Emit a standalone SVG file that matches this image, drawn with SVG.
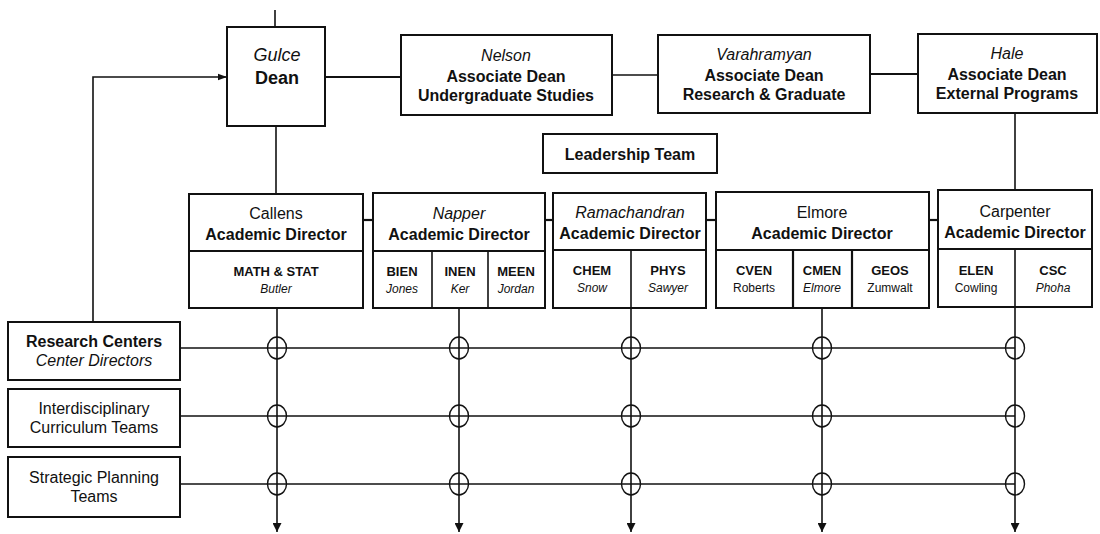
<svg xmlns="http://www.w3.org/2000/svg" width="1100" height="534" viewBox="0 0 1100 534">
<style>
.box{fill:#fff;stroke:#111;stroke-width:2}
.ln{fill:none;stroke:#111;stroke-width:1.6}
.tk{fill:none;stroke:#111;stroke-width:2.2}
.hop{fill:none;stroke:#111;stroke-width:1.4}
text{font-family:"Liberation Sans",Arial,sans-serif;fill:#111;text-anchor:middle}
.b{font-weight:bold;font-size:16px}
.i{font-style:italic;font-size:16px}
.r{font-size:16px}
.db{font-weight:bold;font-size:13px}
.di{font-style:italic;font-size:12px}
</style>
<defs>
<marker id="ah" viewBox="0 0 10 10" refX="10" refY="5" markerWidth="9" markerHeight="9" markerUnits="userSpaceOnUse" orient="auto"><path d="M0,1.5 L10,5 L0,8.5 Z" fill="#111"/></marker>
<marker id="ad" viewBox="0 0 10 10" refX="10" refY="5" markerWidth="13" markerHeight="9" markerUnits="userSpaceOnUse" orient="auto"><path d="M0,0 L10,5 L0,10 Z" fill="#111"/></marker>
</defs>
<g id="connectors">
<line class="ln" x1="275" y1="10" x2="275" y2="27"/>
<line class="tk" x1="325" y1="77" x2="401" y2="77"/>
<line class="ln" x1="612" y1="75" x2="658" y2="75"/>
<line class="tk" x1="870" y1="74" x2="918" y2="74"/>
<line class="ln" x1="276" y1="126" x2="276" y2="193"/>
<line class="ln" x1="1015" y1="113" x2="1015" y2="190"/>
<polyline class="ln" points="93,322 93,77 227,77" marker-end="url(#ah)"/>
<line class="tk" x1="363" y1="220" x2="373" y2="220"/>
<line class="tk" x1="545" y1="220" x2="553" y2="220"/>
<line class="tk" x1="706" y1="220" x2="716" y2="220"/>
<line class="tk" x1="929" y1="220" x2="938" y2="220"/>
<line class="ln" x1="180" y1="348" x2="1015" y2="348"/>
<line class="ln" x1="180" y1="416" x2="1015" y2="416"/>
<line class="ln" x1="180" y1="484" x2="1015" y2="484"/>
<line class="ln" x1="277" y1="308" x2="277" y2="532" marker-end="url(#ad)"/>
<line class="ln" x1="459" y1="308" x2="459" y2="532" marker-end="url(#ad)"/>
<line class="ln" x1="631" y1="308" x2="631" y2="532" marker-end="url(#ad)"/>
<line class="ln" x1="822" y1="308" x2="822" y2="532" marker-end="url(#ad)"/>
<line class="ln" x1="1015" y1="308" x2="1015" y2="532" marker-end="url(#ad)"/>
<g id="hops">
<ellipse class="hop" cx="277" cy="348" rx="9.5" ry="11"/><ellipse class="hop" cx="459" cy="348" rx="9.5" ry="11"/><ellipse class="hop" cx="631" cy="348" rx="9.5" ry="11"/><ellipse class="hop" cx="822" cy="348" rx="9.5" ry="11"/><ellipse class="hop" cx="1015" cy="348" rx="9.5" ry="11"/>
<ellipse class="hop" cx="277" cy="416" rx="9.5" ry="11"/><ellipse class="hop" cx="459" cy="416" rx="9.5" ry="11"/><ellipse class="hop" cx="631" cy="416" rx="9.5" ry="11"/><ellipse class="hop" cx="822" cy="416" rx="9.5" ry="11"/><ellipse class="hop" cx="1015" cy="416" rx="9.5" ry="11"/>
<ellipse class="hop" cx="277" cy="484" rx="9.5" ry="11"/><ellipse class="hop" cx="459" cy="484" rx="9.5" ry="11"/><ellipse class="hop" cx="631" cy="484" rx="9.5" ry="11"/><ellipse class="hop" cx="822" cy="484" rx="9.5" ry="11"/><ellipse class="hop" cx="1015" cy="484" rx="9.5" ry="11"/>
</g>
</g>
<g id="dean">
<rect class="box" x="227" y="27" width="98" height="99"/>
<text x="277" y="61" class="i" style="font-size:18px">Gulce</text>
<text x="277" y="84" class="b" style="font-size:18px">Dean</text>
</g>
<g id="nelson">
<rect class="box" x="401" y="35" width="211" height="80"/>
<text x="506" y="61" class="i">Nelson</text>
<text x="506" y="82" class="b">Associate Dean</text>
<text x="506" y="101" class="b">Undergraduate Studies</text>
</g>
<g id="varahramyan">
<rect class="box" x="658" y="35" width="212" height="78"/>
<text x="764" y="60" class="i">Varahramyan</text>
<text x="764" y="81" class="b">Associate Dean</text>
<text x="764" y="100" class="b">Research &amp; Graduate</text>
</g>
<g id="hale">
<rect class="box" x="918" y="34" width="179" height="79"/>
<text x="1007" y="59" class="i">Hale</text>
<text x="1007" y="80" class="b">Associate Dean</text>
<text x="1007" y="99" class="b">External Programs</text>
</g>
<g id="leadership">
<rect class="box" x="543" y="134" width="174" height="39"/>
<text x="630" y="160" class="b">Leadership Team</text>
</g>
<g id="callens">
<rect class="box" x="189" y="194" width="174" height="114"/>
<line class="tk" x1="189" y1="251" x2="363" y2="251"/>
<text x="276" y="219" class="i" style="font-style:normal">Callens</text>
<text x="276" y="240" class="b">Academic Director</text>
<text x="276" y="276" class="db">MATH &amp; STAT</text>
<text x="276" y="293" class="di">Butler</text>
</g>
<g id="napper">
<rect class="box" x="373" y="193" width="172" height="115"/>
<line class="tk" x1="373" y1="251" x2="545" y2="251"/>
<line class="ln" x1="432" y1="251" x2="432" y2="308"/>
<line class="ln" x1="488" y1="251" x2="488" y2="308"/>
<text x="459" y="219" class="i">Napper</text>
<text x="459" y="240" class="b">Academic Director</text>
<text x="402" y="276" class="db">BIEN</text>
<text x="402" y="293" class="di">Jones</text>
<text x="460" y="276" class="db">INEN</text>
<text x="460" y="293" class="di">Ker</text>
<text x="516" y="276" class="db">MEEN</text>
<text x="516" y="293" class="di">Jordan</text>
</g>
<g id="ramachandran">
<rect class="box" x="553" y="193" width="153" height="115"/>
<line class="tk" x1="553" y1="250" x2="706" y2="250"/>
<line class="ln" x1="631" y1="250" x2="631" y2="308"/>
<text x="630" y="218" class="i">Ramachandran</text>
<text x="630" y="239" class="b">Academic Director</text>
<text x="592" y="275" class="db">CHEM</text>
<text x="592" y="292" class="di">Snow</text>
<text x="668" y="275" class="db">PHYS</text>
<text x="668" y="292" class="di">Sawyer</text>
</g>
<g id="elmore">
<rect class="box" x="716" y="192" width="213" height="116"/>
<line class="tk" x1="716" y1="250" x2="929" y2="250"/>
<line class="tk" x1="793" y1="250" x2="793" y2="308"/>
<line class="tk" x1="852" y1="250" x2="852" y2="308"/>
<text x="822" y="218" class="i" style="font-style:normal">Elmore</text>
<text x="822" y="239" class="b">Academic Director</text>
<text x="754" y="275" class="db">CVEN</text>
<text x="754" y="292" class="di" style="font-style:normal">Roberts</text>
<text x="822" y="275" class="db">CMEN</text>
<text x="822" y="292" class="di">Elmore</text>
<text x="890" y="275" class="db">GEOS</text>
<text x="890" y="292" class="di" style="font-style:normal">Zumwalt</text>
</g>
<g id="carpenter">
<rect class="box" x="938" y="190" width="154" height="117"/>
<line class="tk" x1="938" y1="249" x2="1092" y2="249"/>
<line class="ln" x1="1015" y1="249" x2="1015" y2="307"/>
<text x="1015" y="217" class="i" style="font-style:normal">Carpenter</text>
<text x="1015" y="238" class="b">Academic Director</text>
<text x="976" y="275" class="db">ELEN</text>
<text x="976" y="292" class="di" style="font-style:normal">Cowling</text>
<text x="1053" y="275" class="db">CSC</text>
<text x="1053" y="292" class="di">Phoha</text>
</g>
<g id="research-centers">
<rect class="box" x="8" y="322" width="172" height="58"/>
<text x="94" y="347" class="b">Research Centers</text>
<text x="94" y="366" class="i">Center Directors</text>
</g>
<g id="interdisciplinary">
<rect class="box" x="8" y="389" width="172" height="58"/>
<text x="94" y="414" class="r">Interdisciplinary</text>
<text x="94" y="433" class="r">Curriculum Teams</text>
</g>
<g id="strategic">
<rect class="box" x="8" y="457" width="172" height="60"/>
<text x="94" y="483" class="r">Strategic Planning</text>
<text x="94" y="502" class="r">Teams</text>
</g>
</svg>
